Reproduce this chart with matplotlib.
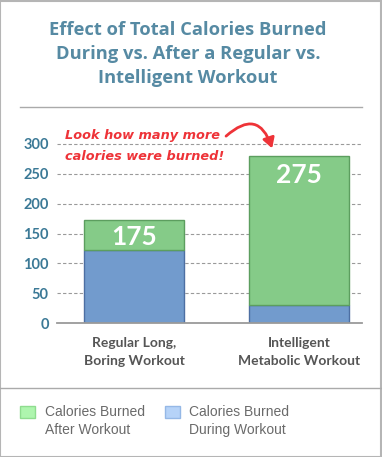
import matplotlib
matplotlib.use("Agg")
import matplotlib.pyplot as plt
from matplotlib.patches import FancyArrowPatch, Rectangle
from matplotlib.lines import Line2D

# data
categories = ["Regular Long,\nBoring Workout", "Intelligent\nMetabolic Workout"]
during = [122, 30]
after = [50, 249]
total_labels = ["175", "275"]
yticks = [0, 50, 100, 150, 200, 250, 300]
legend_labels = ["Calories Burned\nAfter Workout", "Calories Burned\nDuring Workout"]

W, H = 382, 457
GREEN, GREEN_EDGE = "#85cb88", "#5c9e5f"
BLUE, BLUE_EDGE = "#729bcd", "#4d6fa3"
TITLE_C = "#568aa3"
TICK_C = "#3b7996"
RED = "#ee3338"


def px(x, y):
    """pixel coords (top-left origin) -> figure fraction"""
    return x / W, 1 - y / H


fig = plt.figure(figsize=(W / 100, H / 100), dpi=100)
fig.patch.set_facecolor("white")

# outer border and separators
fig.add_artist(Rectangle((0.001, 0.001), 0.997, 0.997, transform=fig.transFigure,
                         fill=False, edgecolor="#b5b5b5", lw=1.5))
for (x0, x1, y) in [(20, 362, 107), (0, 382, 388)]:
    a, b = px(x0, y), px(x1, y)
    fig.add_artist(Line2D([a[0], b[0]], [a[1], b[1]], transform=fig.transFigure,
                          color="#aaaaaa", lw=1))

# title
title_lines = ["Effect of Total Calories Burned",
               "During vs. After a Regular vs.",
               "Intelligent Workout"]
for i, line in enumerate(title_lines):
    fig.text(*px(188, 30 + i * 24), line, ha="center", va="center",
             fontsize=13.2, fontweight="bold", family="Open Sans", color=TITLE_C)

# axes
ax = fig.add_axes([57 / W, (H - 323.3) / H, 305 / W, 179.6 / H])
x = [0, 1]
ax.bar(x, during, width=0.602, color=BLUE, edgecolor=BLUE_EDGE, lw=1, zorder=3)
ax.bar(x, after, width=0.602, bottom=during, color=GREEN, edgecolor=GREEN_EDGE,
       lw=1, zorder=3)
ax.set_xlim(-0.467, 1.382)
ax.set_ylim(0, 300)
for t in yticks[1:]:
    ax.axhline(t, color="#9a9a9a", lw=0.8, ls=(0, (3, 2)), zorder=1, clip_on=False)
ax.axhline(0, color="#9a9a9a", lw=1.3, zorder=4, clip_on=False)
for s in ax.spines.values():
    s.set_visible(False)
ax.set_yticks(yticks)
ax.set_yticklabels([str(t) for t in yticks], fontsize=10.5, fontweight="bold",
                   family="Lato", color=TICK_C)
ax.tick_params(axis="y", length=0, pad=6)
ax.set_xticks([])

# value labels inside green segments
label_y = [237, 175]
for xi, lab, ly in zip(x, total_labels, label_y):
    fig.text(px(134 + 165 * xi, ly)[0], px(0, ly)[1], lab, ha="center", va="center",
             fontsize=19, fontweight="bold", family="Lato", color="white")

# category labels
for xi, cat in zip(x, categories):
    for j, line in enumerate(cat.split("\n")):
        fig.text(*px(134 + 165 * xi, 343 + j * 18), line, ha="center", va="center",
                 fontsize=10, fontweight="bold", family="Lato", color="#555555")

# handwritten annotation
fig.text(*px(65, 136), "Look how many more", ha="left", va="center", fontsize=9.3,
         fontweight="bold", fontstyle="italic", family="DejaVu Sans", color=RED)
fig.text(*px(65, 157), "calories were burned!", ha="left", va="center", fontsize=9.3,
         fontweight="bold", fontstyle="italic", family="DejaVu Sans", color=RED)
arrow = FancyArrowPatch(px(224, 138), px(273, 151), transform=fig.transFigure,
                        connectionstyle="arc3,rad=-0.8",
                        arrowstyle="-|>,head_length=6,head_width=3.5",
                        color=RED, lw=2)
fig.add_artist(arrow)

# legend
for (sx, fc, ec, tx, lab) in [(20, "#aef5ae", "#8fdc8f", 45, legend_labels[0]),
                              (165, "#b6d3f8", "#95b8e6", 189, legend_labels[1])]:
    x0, y0 = px(sx, 418)
    fig.add_artist(Rectangle((x0, y0), 15 / W, 12 / H, transform=fig.transFigure,
                             facecolor=fc, edgecolor=ec, lw=1))
    for j, line in enumerate(lab.split("\n")):
        fig.text(*px(tx, 412 + j * 18), line, ha="left", va="center", fontsize=10,
                 family="Liberation Sans", color="#6a6a6a")

fig.savefig("out.png", dpi=100, facecolor="white")
